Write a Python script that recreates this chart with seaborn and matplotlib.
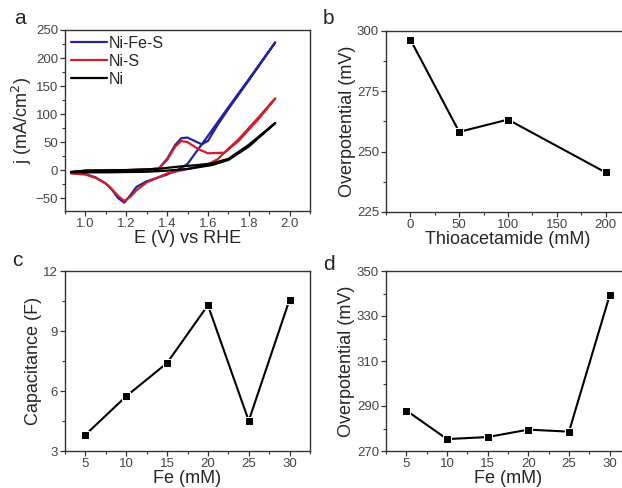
import pandas as pd
import matplotlib
matplotlib.use('Agg')
import matplotlib.pyplot as plt
from matplotlib.ticker import MultipleLocator, FixedLocator, FormatStrFormatter
import seaborn as sns

# panel a: CV curves, forward scan then reverse scan (V vs RHE, mA/cm2)
nifes_v = [0.93, 1.00, 1.10, 1.20, 1.30, 1.36, 1.40, 1.44, 1.47, 1.50, 1.54, 1.57, 1.60, 1.65, 1.70, 1.80, 1.93,
           1.80, 1.70, 1.60, 1.55, 1.50, 1.45, 1.40, 1.35, 1.30, 1.25, 1.22, 1.19, 1.16, 1.13, 1.10, 1.05, 1.00, 0.93]
nifes_j = [-4, -1, 0, 0, 1, 3, 20, 45, 57, 58, 51, 46, 52, 82, 109, 160, 228,
           162, 112, 61, 36, 11, 0, -8, -14, -20, -30, -45, -58, -50, -35, -24, -13, -7, -5]

nis_v = [0.93, 1.00, 1.10, 1.20, 1.30, 1.36, 1.40, 1.44, 1.47, 1.50, 1.55, 1.60, 1.68, 1.75, 1.85, 1.93,
         1.85, 1.80, 1.75, 1.70, 1.65, 1.60, 1.50, 1.40, 1.30, 1.25, 1.22, 1.19, 1.16, 1.13, 1.10, 1.05, 1.00, 0.93]
nis_j = [-4, -1, 0, 0, 1, 3, 18, 42, 52, 50, 38, 30, 31, 52, 92, 128,
         95, 75, 55, 38, 20, 10, 2, -6, -22, -36, -48, -55, -46, -34, -24, -14, -8, -6]

ni_v = [0.93, 1.00, 1.20, 1.35, 1.45, 1.55, 1.62, 1.70, 1.80, 1.93,
        1.80, 1.70, 1.62, 1.50, 1.40, 1.30, 1.10, 0.93]
ni_j = [-3, -1, 0, 2, 6, 9, 12, 20, 45, 84,
        42, 18, 9, 2, -1, -3, -4, -4]

# panel b
thio = [0, 50, 100, 200]
thio_eta = [296.4, 258.2, 263.3, 241.4]

# panels c, d
fe = [5, 10, 15, 20, 25, 30]
fe_cap = [3.81, 5.74, 7.40, 10.29, 4.51, 10.57]
fe_eta = [288.0, 275.3, 276.2, 279.5, 278.6, 339.2]

sns.set_style('ticks')
plt.rcParams['font.family'] = ['Liberation Sans', 'DejaVu Sans']
plt.rcParams['axes.edgecolor'] = '#333333'
plt.rcParams['xtick.color'] = '#333333'
plt.rcParams['ytick.color'] = '#333333'
plt.rcParams['xtick.labelcolor'] = '#444444'
plt.rcParams['ytick.labelcolor'] = '#444444'

W, H = 622, 488
fig = plt.figure(figsize=(W / 100, H / 100), dpi=100)


def add_ax(left, top, right, bottom):
    return fig.add_axes([left / W, 1 - bottom / H, (right - left) / W, (bottom - top) / H])


ax_a = add_ax(65, 30, 310, 211)
ax_b = add_ax(386, 31, 630, 212)
ax_c = add_ax(65, 271, 310, 451)
ax_d = add_ax(386, 271, 630, 451)

# CV table, order kept with a step index
rows = []
for name, vs, js in [('Ni-Fe-S', nifes_v, nifes_j), ('Ni-S', nis_v, nis_j), ('Ni', ni_v, ni_j)]:
    for i, (v, j) in enumerate(zip(vs, js)):
        rows.append({'sample': name, 'step': i, 'E': v, 'j': j})
cv_df = pd.DataFrame(rows)

LABEL = 13
TICK = 9.5

palette = {'Ni-Fe-S': '#24249c', 'Ni-S': '#d11f2a', 'Ni': '#000000'}
sns.lineplot(data=cv_df, x='E', y='j', hue='sample', units='sample', estimator=None, sort=False,
             palette=palette, linewidth=1.6, ax=ax_a)
leg = ax_a.legend(loc='upper left', frameon=False, fontsize=11.5, handlelength=2.3,
                  handletextpad=0.1, borderaxespad=0.15, labelspacing=0.2, borderpad=0.2)
ax_a.set_xlim(0.9, 2.1)
ax_a.set_ylim(-73, 250)
ax_a.xaxis.set_major_locator(MultipleLocator(0.2))
ax_a.xaxis.set_minor_locator(MultipleLocator(0.1))
ax_a.yaxis.set_major_locator(MultipleLocator(50))
ax_a.yaxis.set_minor_locator(MultipleLocator(25))
ax_a.xaxis.set_major_formatter(FormatStrFormatter('%.1f'))
ax_a.set_xlabel('E (V) vs RHE', fontsize=LABEL, labelpad=0)
ax_a.set_ylabel('j (mA/cm$^2$)', fontsize=LABEL, labelpad=1)

sns.lineplot(x=thio, y=thio_eta, color='black', marker='s', markersize=6, linewidth=1.5, ax=ax_b)
ax_b.set_xlim(-25, 225)
ax_b.set_ylim(225, 300)
ax_b.xaxis.set_major_locator(MultipleLocator(50))
ax_b.xaxis.set_minor_locator(MultipleLocator(25))
ax_b.yaxis.set_major_locator(MultipleLocator(25))
ax_b.yaxis.set_minor_locator(MultipleLocator(12.5))
ax_b.set_xlabel('Thioacetamide (mM)', fontsize=LABEL, labelpad=0)
ax_b.set_ylabel('Overpotential (mV)', fontsize=LABEL, labelpad=1)

sns.lineplot(x=fe, y=fe_cap, color='black', marker='s', markersize=6, linewidth=1.5, ax=ax_c)
ax_c.set_xlim(2.5, 32.5)
ax_c.set_ylim(3, 12)
ax_c.xaxis.set_major_locator(MultipleLocator(5))
ax_c.xaxis.set_minor_locator(MultipleLocator(2.5))
ax_c.yaxis.set_major_locator(MultipleLocator(3))
ax_c.yaxis.set_minor_locator(MultipleLocator(1.5))
ax_c.set_xlabel('Fe (mM)', fontsize=LABEL, labelpad=0)
ax_c.set_ylabel('Capacitance (F)', fontsize=LABEL, labelpad=1)

sns.lineplot(x=fe, y=fe_eta, color='black', marker='s', markersize=6, linewidth=1.5, ax=ax_d)
ax_d.set_xlim(2.5, 32.5)
ax_d.set_ylim(270, 350)
ax_d.xaxis.set_major_locator(MultipleLocator(5))
ax_d.xaxis.set_minor_locator(MultipleLocator(2.5))
ax_d.yaxis.set_major_locator(FixedLocator([270, 290, 310, 330, 350]))
ax_d.yaxis.set_minor_locator(FixedLocator([280, 300, 320, 340]))
ax_d.set_xlabel('Fe (mM)', fontsize=LABEL, labelpad=0)
ax_d.set_ylabel('Overpotential (mV)', fontsize=LABEL, labelpad=1)

for ax in [ax_a, ax_b, ax_c, ax_d]:
    for s in ax.spines.values():
        s.set_visible(True)
        s.set_linewidth(1.0)
    ax.tick_params(which='major', direction='out', length=3.5, width=0.9, labelsize=TICK, pad=1.5)
    ax.tick_params(which='minor', direction='out', length=2, width=0.8)
    ax.tick_params(top=False, right=False, which='both')

# panel letters, placed in figure pixels
for letter, px, py in [('a', 14, 24), ('b', 323, 24), ('c', 12, 266), ('d', 323, 270)]:
    fig.text(px / W, 1 - py / H, letter, fontsize=15, ha='left', va='baseline')

fig.savefig('out.png', dpi=100)
